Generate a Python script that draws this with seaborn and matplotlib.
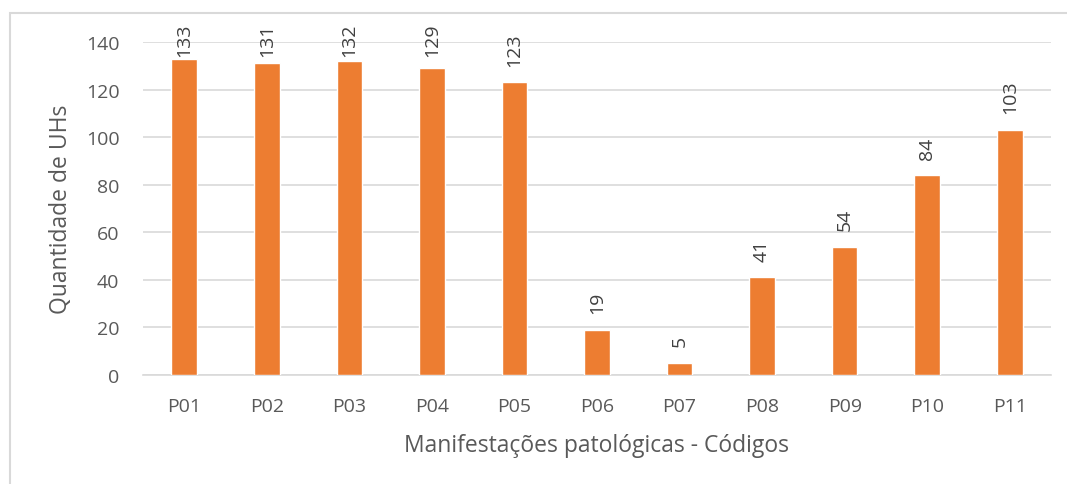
import matplotlib
matplotlib.use('Agg')
import matplotlib.pyplot as plt
import seaborn as sns
import pandas as pd
from matplotlib.patches import Rectangle

# data
codes = ['P01', 'P02', 'P03', 'P04', 'P05', 'P06', 'P07', 'P08', 'P09', 'P10', 'P11']
counts = [133, 131, 132, 129, 123, 19, 5, 41, 54, 84, 103]
y_ticks = [0, 20, 40, 60, 80, 100, 120, 140]

df = pd.DataFrame({'codigo': codes, 'qtd': counts})

sns.set_style('white')
plt.rcParams['font.family'] = ['Open Sans', 'DejaVu Sans']
text_color = '#595959'

fig = plt.figure(figsize=(10.67, 4.85), dpi=100)
ax = fig.add_axes([0.134, 0.2247, 0.851, 0.6866])

# outer chart frame (right and bottom edges fall outside the image)
fig.patches.append(Rectangle((10 / 1067, -0.1), 1.2, 1 - 14 / 485 + 0.1,
                             transform=fig.transFigure, fill=False,
                             edgecolor='#d9d9d9', linewidth=1.5))

sns.barplot(data=df, x='codigo', y='qtd', color='#ED7D31', width=0.31,
            saturation=1, ax=ax, zorder=3)

# value labels, rotated; Excel pushes the tallest ones down to stay in the chart
for i, v in enumerate(counts):
    ax.text(i, min(v + 7, 134), str(v), rotation=90, ha='center', va='bottom',
            fontsize=14, color='#404040', clip_on=False)

ax.set_xlim(-0.5, len(codes) - 0.5)
ax.set_ylim(0, 140)
ax.set_yticks(y_ticks)
ax.yaxis.grid(True, color='#d9d9d9', linewidth=1.2, zorder=0)
ax.set_axisbelow(True)
for side in ['top', 'right', 'left']:
    ax.spines[side].set_visible(False)
ax.spines['bottom'].set_color('#d9d9d9')
ax.spines['bottom'].set_linewidth(1.2)
ax.tick_params(axis='both', length=0, labelsize=14, colors=text_color)
ax.tick_params(axis='x', pad=16)
ax.tick_params(axis='y', pad=17)

ax.set_xlabel('Manifestações patológicas - Códigos', fontsize=16.5,
              color=text_color, labelpad=13)
ax.set_ylabel('Quantidade de UHs', fontsize=16.5, color=text_color, labelpad=9)

fig.savefig('out.png', dpi=100)
